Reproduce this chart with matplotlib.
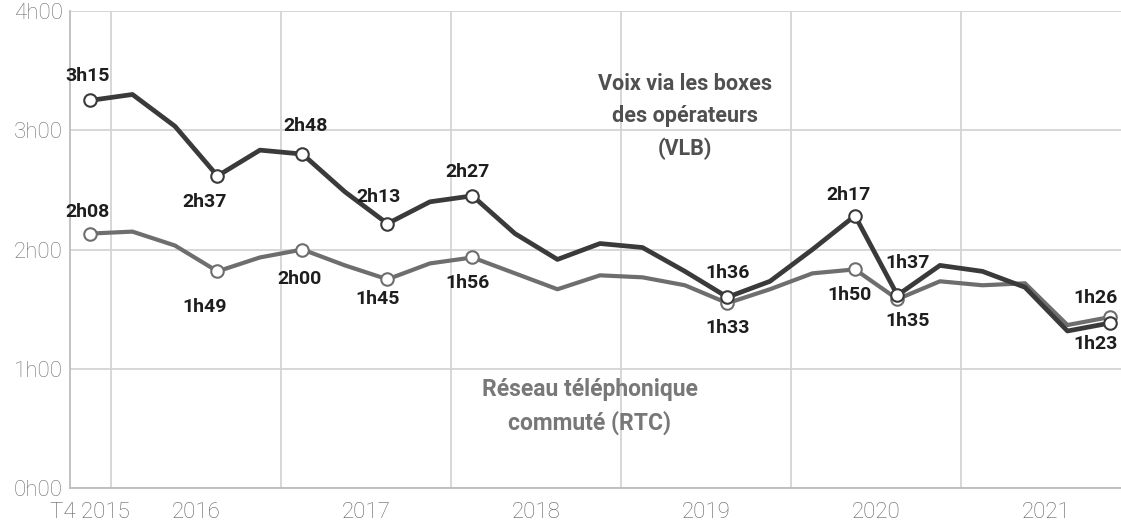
import matplotlib
matplotlib.use("Agg")
from matplotlib import pyplot as plt

# quarters from T4 2015 (index 0) to T4 2021 (index 24), minutes per month
quarters = list(range(25))
vlb = [195, 198, 182, 157, 170, 168, 149, 133, 144, 147, 128, 115, 123, 121, 109,
       96, 104, 120, 137, 97, 112, 109, 101, 79, 83]
rtc = [128, 129, 122, 109, 116, 120, 112, 105, 113, 116, 108, 100, 107, 106, 102,
       93, 100, 108, 110, 95, 104, 102, 103, 82, 86]

labelled = [0, 3, 5, 7, 9, 15, 18, 19, 24]
year_labels = ["T4 2015", "2016", "2017", "2018", "2019", "2020", "2021"]
year_pos = [0, 2.5, 6.5, 10.5, 14.5, 18.5, 22.5]
y_ticks = [0, 60, 120, 180, 240]

# label offsets in pixels (dx, dy) for each labelled point
vlb_off = [(-2, 24), (-13, -26), (3, 28), (-9, 27), (-5, 24), (0, 24), (-6, 21), (10, 32), (-14, -21)]
rtc_off = [(-2, 22), (-13, -36), (-3, -30), (-10, -20), (-5, -26), (0, -25), (-5, -26), (10, -22), (-14, 19)]


def fmt(m):
    return "%dh%02d" % (m // 60, m % 60)


plt.rcParams["font.family"] = ["Roboto", "DejaVu Sans"]

fig = plt.figure(figsize=(11.21, 5.24), dpi=100)
ax = fig.add_axes([70 / 1121, 1 - 488 / 524, 1 - 70 / 1121, (488 - 11) / 524])

ax.set_xlim(-0.47, 24.26)
ax.set_ylim(0, 240)

# grid
for y in y_ticks:
    ax.axhline(y, color="#d4d4d4", lw=1.3, zorder=0)
for k in range(7):
    ax.axvline(0.5 + 4 * k, color="#d4d4d4", lw=1.3, zorder=0)

ax.plot(quarters, rtc, color="#6e6e6e", lw=3.0, zorder=2, solid_joinstyle="round")
ax.plot(quarters, vlb, color="#3a3a3a", lw=3.4, zorder=3, solid_joinstyle="round")
ax.plot(labelled, [rtc[i] for i in labelled], "o", ms=9, mfc="white", mec="#6e6e6e", mew=1.5, zorder=4)
ax.plot(labelled, [vlb[i] for i in labelled], "o", ms=9, mfc="white", mec="#3a3a3a", mew=1.5, zorder=5)

for series, offs in ((vlb, vlb_off), (rtc, rtc_off)):
    for i, (dx, dy) in zip(labelled, offs):
        ax.annotate(fmt(series[i]), (i, series[i]), xytext=(dx, dy), textcoords="offset pixels",
                    ha="center", va="center", fontsize=14, fontweight="bold", color="#1e1e1e",
                    zorder=6, annotation_clip=False)

ax.text(14.0, 187, "Voix via les boxes\ndes opérateurs\n(VLB)", ha="center", va="center",
        fontsize=15.5, fontweight="bold", color="#505050", linespacing=1.6)
ax.text(11.76, 41, "Réseau téléphonique\ncommuté (RTC)", ha="center", va="center",
        fontsize=16.5, fontweight="bold", color="#787878", linespacing=1.55)

ax.set_yticks(y_ticks)
ax.set_yticklabels([fmt(v) for v in y_ticks], fontsize=16, color="#707070", fontweight="light")
ax.set_xticks(year_pos)
ax.set_xticklabels(year_labels, fontsize=16, color="#606060", fontweight="light")
ax.tick_params(length=0)
ax.tick_params(axis="x", pad=10)
ax.tick_params(axis="y", pad=5)

for s in ("top", "right"):
    ax.spines[s].set_visible(False)
ax.spines["left"].set_color("#bdbdbd")
ax.spines["bottom"].set_color("#bdbdbd")
ax.spines["left"].set_linewidth(1.3)
ax.spines["bottom"].set_linewidth(1.3)

fig.savefig("out.png", dpi=100)
